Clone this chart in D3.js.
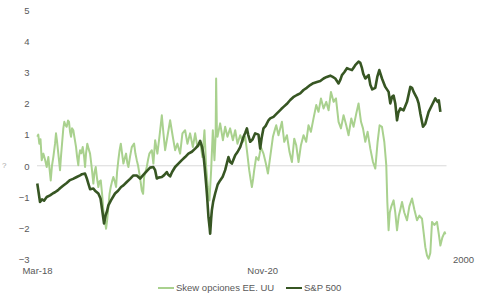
<!DOCTYPE html>
<html><head><meta charset="utf-8">
<script src="https://cdn.jsdelivr.net/npm/d3@7"></script>
<style>
html,body{margin:0;padding:0;background:#fff;}
svg text{font-family:"Liberation Sans",Arial,sans-serif;}
</style></head>
<body><svg id="c" width="502" height="300"></svg>
<script>
// time in months since Mar-2018
const skewMonths = [0.04,0.18,0.33,0.5,0.67,0.9,1.14,1.38,1.61,1.95,2.13,2.32,2.56,2.7,2.84,3.03,3.27,3.41,3.6,3.74,3.88,4.05,4.22,4.41,4.55,4.69,4.84,4.98,5.16,5.33,5.55,5.69,5.87,5.97,6.12,6.3,6.5,6.69,6.83,6.97,7.15,7.33,7.54,7.75,8.01,8.18,8.35,8.53,8.72,8.89,9.06,9.25,9.43,9.6,9.82,9.99,10.14,10.31,10.48,10.67,10.85,11.05,11.24,11.38,11.56,11.74,11.91,12.09,12.28,12.48,12.66,12.83,12.99,13.23,13.47,13.8,13.98,14.18,14.37,14.55,14.72,14.89,15.08,15.22,15.41,15.6,15.79,15.97,16.32,16.54,16.79,17.11,17.4,17.74,17.97,18.21,18.53,18.92,19.3,19.63,19.96,20.34,20.67,21.05,21.38,21.76,22.15,22.48,22.8,23.19,23.51,23.8,24.04,24.28,24.51,24.75,24.99,25.22,25.39,25.46,25.56,25.65,26.03,26.42,26.74,27.07,27.45,27.84,28.17,28.49,28.88,29.26,29.59,29.83,30.16,30.37,30.54,30.73,30.87,31.15,31.48,31.82,32.19,32.53,32.82,33.14,33.53,33.86,34.0,34.32,34.81,35.14,35.52,35.89,36.23,36.56,36.84,37.17,37.51,37.88,38.26,38.59,38.93,39.3,39.69,40.01,40.36,40.73,41.11,41.44,41.78,42.15,42.49,42.86,43.2,43.57,43.95,44.28,44.67,44.99,45.38,45.7,46.05,46.33,46.66,46.99,47.37,47.75,48.08,48.41,48.69,49.03,49.36,49.64,49.79,49.97,50.14,50.36,50.68,50.92,51.17,51.42,51.64,51.88,52.2,52.59,52.92,53.3,53.63,54.01,54.34,54.72,54.98,55.19,55.43,55.66,55.9,56.14,56.47,56.85,57.11,57.33,57.61,57.94,58.04];
const skewValues = [0.93,1.0,0.71,0.85,0.18,0.39,0.2,-0.04,0.28,-0.47,0.0,0.28,0.7,1.04,0.8,0.39,-0.14,0.3,0.82,1.2,1.41,1.3,1.25,1.45,1.41,1.1,0.93,1.2,1.14,0.9,0.6,0.3,0.02,0.3,0.5,0.4,0.6,0.3,-0.04,0.4,0.71,0.55,0.39,0.0,-0.57,-0.2,-0.04,-0.4,-0.68,-0.5,-0.47,-0.9,-1.43,-1.7,-2.02,-1.7,-1.32,-0.9,-0.68,-0.5,-0.36,-0.5,-0.68,-0.2,0.18,0.5,0.71,0.4,0.07,0.25,0.39,0.1,-0.04,0.3,0.6,0.71,0.4,0.18,0.0,-0.25,-0.5,-0.79,-0.9,-0.36,-0.2,-0.04,0.2,0.39,0.5,0.07,0.82,0.39,0.93,1.62,1.04,0.5,0.93,1.46,0.93,0.5,0.71,0.39,1.04,1.14,0.71,1.04,0.6,1.04,0.6,0.77,0.28,1.14,-0.04,-0.68,-1.11,-0.14,1.14,0.18,1.0,2.8,1.2,0.93,1.36,0.82,1.25,0.93,1.2,0.82,1.14,0.71,0.98,0.77,0.93,0.5,-0.14,-0.45,-0.68,-0.4,-0.14,0.28,0.18,0.6,0.39,0.07,-0.25,0.28,0.93,1.2,1.3,0.98,1.41,0.77,0.98,0.44,0.12,0.87,0.66,0.12,0.66,0.98,0.77,1.3,1.09,1.52,1.95,1.73,2.16,1.84,2.05,1.78,2.37,2.05,2.16,1.41,1.2,1.62,1.3,0.98,1.52,1.25,1.68,2.0,1.41,1.2,0.77,1.09,0.55,0.12,-0.09,0.77,1.3,1.25,0.77,0.02,-1.16,-2.07,-1.5,-1.3,-1.11,-1.5,-2.07,-1.6,-1.4,-1.16,-1.5,-1.75,-1.3,-1.05,-1.4,-1.75,-1.6,-1.7,-2.2,-2.61,-2.88,-2.98,-2.8,-1.8,-1.9,-1.8,-2.2,-2.56,-2.3,-2.13,-2.2];

const spxMonths = [0.04,0.43,0.71,1.0,1.38,1.85,2.28,2.56,2.99,3.27,3.7,4.22,4.69,5.12,5.65,6.12,6.4,6.83,7.07,7.3,7.54,8.01,8.25,8.72,9.03,9.25,9.53,9.74,9.96,10.14,10.53,11.09,11.52,11.95,12.28,12.76,13.23,13.7,14.18,14.65,15.08,15.6,16.07,16.54,16.79,17.03,17.25,17.74,18.07,18.45,18.63,18.92,19.2,19.63,20.06,20.58,21.05,21.52,22.01,22.48,22.9,23.19,23.47,23.68,23.83,24.04,24.18,24.37,24.54,24.61,24.75,24.85,25.04,25.32,25.68,26.03,26.39,26.74,27.21,27.45,27.7,28.17,28.52,28.88,29.35,29.59,29.83,30.01,30.3,30.65,31.01,31.48,31.72,31.93,32.19,32.5,32.9,33.14,33.61,34.1,34.32,34.71,35.04,35.49,35.99,36.42,36.94,37.41,37.88,38.34,38.83,39.26,39.79,40.26,40.73,41.18,41.68,42.03,42.39,42.86,43.1,43.34,43.67,44.05,44.38,44.77,45.02,45.23,45.7,45.95,46.19,46.37,46.66,47.13,47.37,47.65,48.08,48.36,48.65,49.03,49.5,49.97,50.21,50.46,50.68,50.92,51.17,51.35,51.64,52.1,52.59,53.06,53.3,53.53,54.01,54.24,54.48,54.86,55.19,55.66,56.14,56.61,56.94,57.11,57.33];
const spxValues = [-0.57,-1.16,-1.08,-1.12,-1.0,-0.95,-0.88,-0.85,-0.78,-0.72,-0.64,-0.55,-0.46,-0.42,-0.36,-0.31,-0.27,-0.25,-0.4,-0.57,-0.75,-0.73,-0.8,-0.89,-1.05,-1.4,-1.85,-1.6,-1.45,-1.27,-1.1,-0.89,-0.8,-0.68,-0.63,-0.52,-0.42,-0.31,-0.31,-0.41,-0.3,-0.17,-0.06,-0.04,-0.14,-0.41,-0.38,-0.36,-0.3,-0.2,-0.28,-0.34,-0.2,-0.04,0.06,0.18,0.28,0.39,0.45,0.55,0.65,0.8,0.6,0.3,-0.04,-0.6,-1.0,-1.65,-2.0,-2.18,-1.7,-1.43,-1.15,-0.89,-0.6,-0.47,-0.35,-0.14,0.28,0.12,0.07,0.34,0.45,0.6,0.93,1.05,1.2,1.0,0.77,0.85,1.04,1.0,0.55,0.9,1.2,1.28,1.46,1.52,1.57,1.68,1.73,1.82,1.89,1.98,2.11,2.2,2.27,2.32,2.43,2.5,2.59,2.65,2.69,2.72,2.8,2.85,2.89,2.85,2.8,2.64,2.75,2.91,3.0,3.13,3.1,3.07,3.15,3.23,3.34,3.3,3.13,2.95,2.8,2.91,2.6,2.45,2.5,2.85,3.07,2.8,2.53,2.37,2.0,2.21,2.25,2.0,1.46,1.7,1.84,1.78,2.05,2.53,2.5,2.37,2.16,2.0,1.68,1.25,1.35,1.73,1.95,2.16,2.05,2.1,1.73];

const yTicks = [-3,-2,-1,0,1,2,3,4,5];
const xTickMonths = [0, 32];
const xTickLabels = ["Mar-18", "Nov-20"];
const secondaryLabel = "2000";
const seriesNames = ["Skew opciones EE. UU", "S&P 500"];
const seriesColors = ["#a9d18e", "#375623"];

const FS = 9.5;
const svg = d3.select("#c");
const x = d3.scaleLinear().domain([0, 58.2]).range([37, 446.5]);
const y = d3.scaleLinear().domain([-3, 5]).range([259.3, 9.9]);

// y labels
const yAxis = d3.axisLeft(y).tickValues(yTicks).tickSize(0).tickPadding(0).tickFormat(d3.format("d"));
const gy = svg.append("g").attr("transform", "translate(29.5,0)").call(yAxis);
gy.select(".domain").remove();
gy.selectAll("text").attr("font-size", FS).attr("fill", "#595959").attr("dy", "0.35em");

// zero axis line
svg.append("line").attr("x1", x(0)).attr("x2", x(58.2)).attr("y1", y(0)).attr("y2", y(0))
  .attr("stroke", "#d9d9d9").attr("stroke-width", 1);

// x labels
const xAxis = d3.axisBottom(x).tickValues(xTickMonths).tickSize(0).tickPadding(0)
  .tickFormat((d, i) => xTickLabels[i]);
const gx = svg.append("g").attr("transform", "translate(0,267)").call(xAxis);
gx.select(".domain").remove();
gx.selectAll("text").attr("font-size", FS).attr("fill", "#595959").attr("dy", "0.71em");

svg.append("text").attr("x", 453).attr("y", 263).attr("font-size", FS).attr("fill", "#595959").text(secondaryLabel);
svg.append("text").attr("x", 2).attr("y", 168).attr("font-size", 8).attr("fill", "#a6a6a6").text("?");

const line = d3.line().x(d => x(d[0])).y(d => y(d[1]));
const skew = skewMonths.map((m, i) => [m, skewValues[i]]);
const spx = spxMonths.map((m, i) => [m, spxValues[i]]);

svg.append("path").datum(skew).attr("d", line).attr("fill", "none")
  .attr("stroke", seriesColors[0]).attr("stroke-width", 2).attr("stroke-linejoin", "round");
svg.append("path").datum(spx).attr("d", line).attr("fill", "none")
  .attr("stroke", seriesColors[1]).attr("stroke-width", 2.6).attr("stroke-linejoin", "round");

// legend
const legX = [158, 286];
seriesNames.forEach((n, i) => {
  const g = svg.append("g").attr("transform", `translate(${legX[i]},288)`);
  g.append("line").attr("x1", 0).attr("x2", 16).attr("y1", 0).attr("y2", 0)
    .attr("stroke", seriesColors[i]).attr("stroke-width", 2);
  g.append("text").attr("x", 18).attr("y", 0).attr("dy", "0.35em").attr("font-size", FS)
    .attr("fill", "#595959").text(n);
});
</script></body></html>
